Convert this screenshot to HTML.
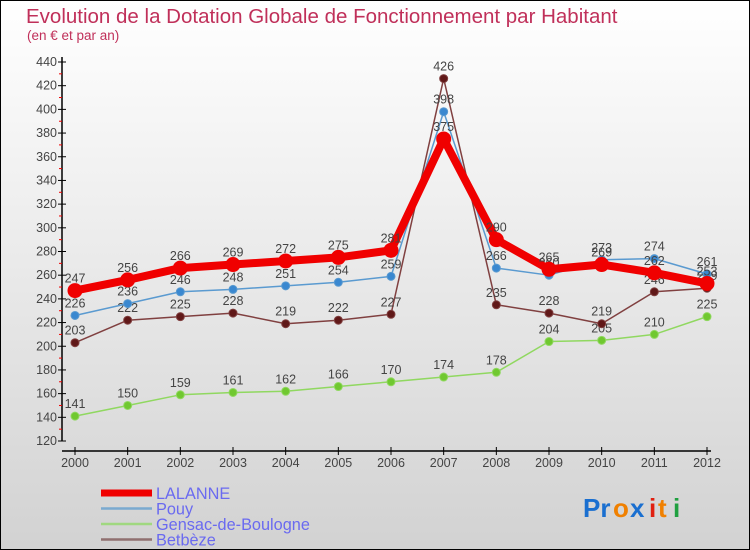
<!DOCTYPE html>
<html><head><meta charset="utf-8"><style>
body{margin:0}
#wrap{position:relative;width:748px;height:548px;border:1px solid #000;background:linear-gradient(#fff,#f2f2f2 30%,#d2d2d2);font-family:"Liberation Sans",sans-serif;overflow:hidden}
svg text{font-family:"Liberation Sans",sans-serif}
</style></head><body>
<div id="wrap">
<svg id="s" width="748" height="548">
<text x="25" y="22" font-size="20.5" fill="#c0305a">Evolution de la Dotation Globale de Fonctionnement par Habitant</text>
<text x="26" y="39" font-size="13.5" fill="#c0305a">(en € et par an)</text>
<g id="axes"></g><g id="series"></g>
<g font-size="26" font-weight="bold">
<text x="582" y="516" fill="#1a6fd0">Pr</text><text x="612" y="516" fill="#f08000">o</text><text x="629" y="516" fill="#1a6fd0">x</text><text x="648" y="516" fill="#e02010">i</text><text x="657" y="516" fill="#f08000">t</text><text x="672" y="516" fill="#20a040">i</text>
</g>
</svg>
</div>
<script>
const years=[2000,2001,2002,2003,2004,2005,2006,2007,2008,2009,2010,2011,2012];
const lalanne=[247,256,266,269,272,275,281,375,290,265,269,262,253];
const pouy=[226,236,246,248,251,254,259,398,266,260,273,274,261];
const gensac=[141,150,159,161,162,166,170,174,178,204,205,210,225];
const betbeze=[203,222,225,228,219,222,227,426,235,228,219,246,249];
const yTicks=[120,140,160,180,200,220,240,260,280,300,320,340,360,380,400,420,440];
const NS='http://www.w3.org/2000/svg';
const x=i=>74+i*(632/12);
const y=v=>440-(v-120)*379/320;
function mk(t,a,p){const e=document.createElementNS(NS,t);for(const k in a)e.setAttribute(k,a[k]);p.appendChild(e);return e;}
const ax=document.getElementById('axes'),sg=document.getElementById('series');
let l=mk('line',{x1:61,y1:56,x2:61,y2:440,stroke:'#000','stroke-width':1.5},ax);


l=mk('line',{x1:61,y1:450,x2:710,y2:450,stroke:'#000','stroke-width':1.5},ax);


yTicks.forEach((v,i)=>{
 mk('line',{x1:57,y1:y(v),x2:65,y2:y(v),stroke:'#000'},ax);
 if(i<yTicks.length-1)mk('line',{x1:58,y1:y(v+10),x2:61,y2:y(v+10),stroke:'#e00'},ax);
 const t=mk('text',{x:56,y:y(v)+4,'font-size':12.5,fill:'#444','text-anchor':'end'},ax);t.textContent=v;
 
 
});
years.forEach((yr,i)=>{
 mk('line',{x1:x(i),y1:446,x2:x(i),y2:454,stroke:'#000'},ax);
 const t=mk('text',{x:x(i),y:466,'font-size':12.5,fill:'#444','text-anchor':'middle'},ax);t.textContent=yr;
 
 
});
function series(d,col,dot,w,r,name){
 const g=mk('g',{},sg);
 
 
 mk('polyline',{points:d.map((v,i)=>x(i)+','+y(v)).join(' '),fill:'none',stroke:col,'stroke-width':w,'stroke-linejoin':'round'},g);
 d.forEach((v,i)=>{
  const c=mk('circle',{cx:x(i),cy:y(v),r:r,fill:dot,stroke:col,'stroke-width':1},g);
  
  
  const t=mk('text',{x:x(i),y:y(v)-8,'font-size':12.5,fill:'#444','text-anchor':'middle'},g);t.textContent=v;
 });
}
series(gensac,'#90d860','#70c830',1.5,4,'gensac');
series(betbeze,'#804040','#601818',1.5,4,'betbeze');
series(pouy,'#5a9ad0','#3a88d0',1.5,4,'pouy');
series(lalanne,'#f00000','#f00000',8,7,'lalanne');
const leg=[['LALANNE','#f00000',7],['Pouy','#7aaad0',2.5],['Gensac-de-Boulogne','#a0d880',2.5],['Betbèze','#907070',2.5]];
leg.forEach((e,i)=>{
 const g=mk('g',{},sg);
 
 
 const yy=492+i*15.5;
 mk('line',{x1:100,y1:yy,x2:151,y2:yy,stroke:e[1],'stroke-width':e[2]},g);
 const t=mk('text',{x:155,y:yy+6,'font-size':16.3,fill:'#6a6af0'},g);t.textContent=e[0];
});
</script>
</body></html>
